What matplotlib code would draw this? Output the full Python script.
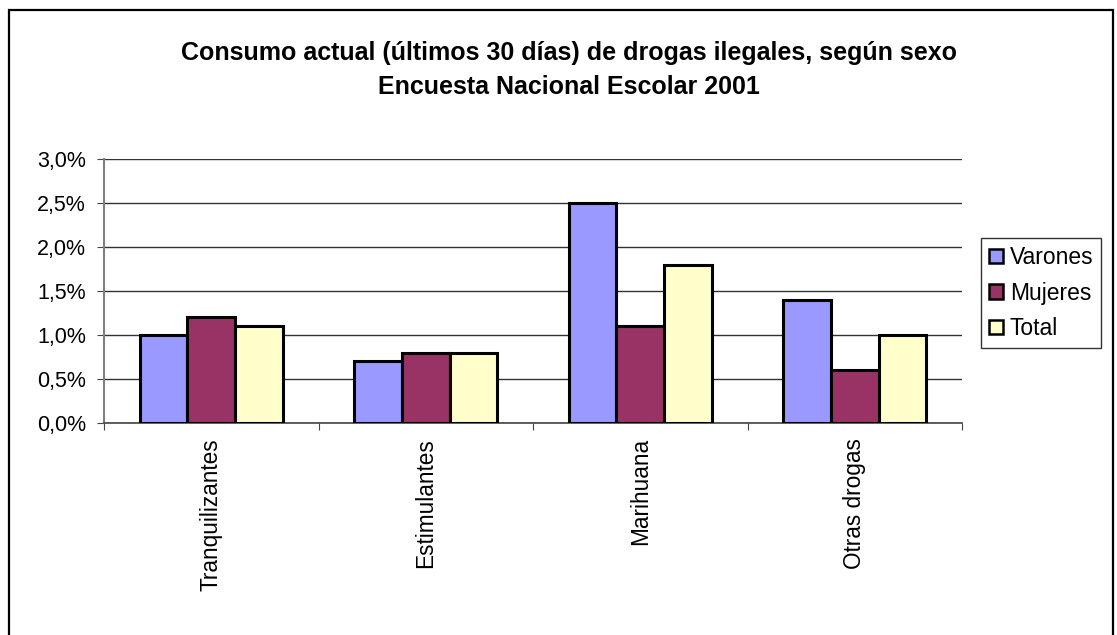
import numpy as np
import matplotlib
matplotlib.use("Agg")
from matplotlib import pyplot as plt
from matplotlib.patches import Rectangle
from matplotlib.ticker import FuncFormatter, MultipleLocator

plt.rcParams['font.family'] = ['Liberation Sans', 'DejaVu Sans']

# data
categorias = ["Tranquilizantes", "Estimulantes", "Marihuana", "Otras drogas"]
varones = [1.0, 0.7, 2.5, 1.4]
mujeres = [1.2, 0.8, 1.1, 0.6]
total = [1.1, 0.8, 1.8, 1.0]
series = ["Varones", "Mujeres", "Total"]
colores = ["#9999FF", "#993366", "#FFFFCC"]

fig = plt.figure(figsize=(11.17, 6.35), dpi=100)
fig.patch.set_facecolor("white")

# outer chart border
fig.patches.append(Rectangle((9 / 1117, -0.05), (1113 - 9) / 1117, 1.05 - 10 / 635,
                             transform=fig.transFigure, fill=False,
                             edgecolor="black", linewidth=1.6))

ax = fig.add_axes([104 / 1117, 1 - 423 / 635, (962 - 104) / 1117, (423 - 159) / 635])

x = np.arange(len(categorias))
w = 0.222
for i, (nombre, vals) in enumerate(zip(series, [varones, mujeres, total])):
    ax.bar(x + (i - 1) * w, vals, width=w, color=colores[i], edgecolor="black",
           linewidth=2.2, label=nombre, zorder=3)

ax.set_xlim(-0.5, len(categorias) - 0.5)
ax.set_ylim(0, 3.0)
ax.yaxis.set_major_locator(MultipleLocator(0.5))
ax.yaxis.set_major_formatter(FuncFormatter(lambda v, p: f"{v:.1f}%".replace(".", ",")))
ax.grid(axis="y", color="#333333", linewidth=1.0, zorder=0)

ax.set_xticks(np.arange(len(categorias) + 1) - 0.5)
ax.set_xticklabels([])
ax.set_xticks(x, minor=True)
ax.set_xticklabels(categorias, minor=True, rotation=90, fontsize=16.3)
ax.tick_params(axis="x", which="minor", length=0, pad=11)
ax.tick_params(axis="x", which="major", length=5, color="#444444", direction="out")
ax.tick_params(axis="y", labelsize=15.5, length=5, color="#444444", pad=8)

for s in ["top", "right"]:
    ax.spines[s].set_visible(False)
ax.spines["left"].set_color("#808080")
ax.spines["left"].set_linewidth(1.5)
ax.spines["bottom"].set_color("#444444")
ax.spines["bottom"].set_linewidth(1.2)

fig.text(569 / 1117, 1 - 53 / 635, "Consumo actual (últimos 30 días) de drogas ilegales, según sexo",
         ha="center", va="center", fontsize=18, fontweight="bold")
fig.text(569 / 1117, 1 - 87 / 635, "Encuesta Nacional Escolar 2001",
         ha="center", va="center", fontsize=18, fontweight="bold")

leg = fig.legend(loc="upper left", bbox_to_anchor=(981 / 1117, 1 - 238 / 635),
                 fontsize=16.5, frameon=True, fancybox=False, handlelength=0.6,
                 handleheight=0.6, handletextpad=0.3, borderpad=0.35,
                 labelspacing=0.55, borderaxespad=0)
leg.get_frame().set_edgecolor("black")
leg.get_frame().set_linewidth(1.0)
for h in leg.legend_handles:
    h.set_linewidth(1.8)

fig.savefig("out.png", dpi=100)
